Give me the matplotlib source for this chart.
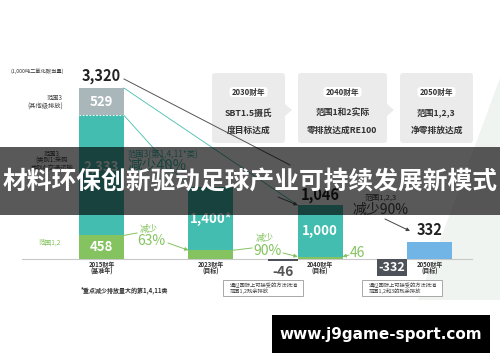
import matplotlib
matplotlib.use("Agg")
import matplotlib.pyplot as plt
import numpy as np
from matplotlib.patches import Rectangle, FancyBboxPatch, Polygon

plt.rcParams['font.family'] = ['Noto Sans CJK SC', 'DejaVu Sans']

# ---- data (1,000 t CO2e) ----
years = ['2015财年', '2023财年', '2040财年', '2050财年']
year_notes = ['(基准年)', '(目标)', '(目标)', '(目标)']
scope12 = [458, 170, 46, 0]
scope3_main = [2333, 1230, 1000, 0]
scope3_other = [529, 0, 0, 0]
net_zero = [0, 0, 0, 332]
totals = [3320, 1400, 1046, 332]
offsets = [0, 0, -46, -332]
main_labels = ['2,333', '1,400*', '1,000', '']
total_labels = ['3,320', '', '1,046', '332']

milestones = ['2030财年', '2040财年', '2050财年']
milestone_text = [['SBT1.5摄氏', '度目标达成'],
                  ['范围1和2实际', '零排放达成RE100'],
                  ['范围1,2,3', '净零排放达成']]
callouts = [['通过国际上可接受的方法抵消', '范围1,2残余排放'],
            ['通过国际上可接受的方法抵消', '范围1,2和3的残余排放']]

GREEN = '#84c35f'
TEAL = '#43bdaf'
GRAY = '#a9b6ba'
BLUE = '#70b5e5'
DARK = '#4d525a'
TXT = '#333333'

# layout: category 0 sits at X0 px, spacing DX px; baseline at Y0 px, SY px per unit
W, H = 500, 362
X0, DX, Y0, SY = 101.5, 109.3, 259.0, 0.0515
XL, YL = (-0.73, 3.4), (-1000, 5000)
bw = 0.41


def px(xd, yd):
    return X0 + DX * xd, Y0 - SY * yd


fig = plt.figure(figsize=(W / 100, H / 100), dpi=100)

# background decoration
bg = fig.add_axes([0, 0, 1, 1], zorder=-1)
bg.set_xlim(0, W); bg.set_ylim(H, 0); bg.axis('off')
bg.add_patch(Polygon([(500, 78), (500, 300), (418, 300)], closed=True,
                     color='#f0f4f1', lw=0))

# main bar axes
left_px = X0 + DX * XL[0]
right_px = X0 + DX * XL[1]
top_px = Y0 - SY * YL[1]
bot_px = Y0 - SY * YL[0]
ax = fig.add_axes([left_px / W, (H - bot_px) / H, (right_px - left_px) / W,
                   (bot_px - top_px) / H])
ax.set_facecolor('none')
ax.set_xlim(*XL); ax.set_ylim(*YL)
ax.axis('off')

x = np.arange(len(years))
s12 = np.array(scope12)
s3m = np.array(scope3_main)
ax.bar(x, s12, bw, color=GREEN, lw=0)
ax.bar(x, s3m, bw, bottom=s12, color=TEAL, lw=0)
ax.bar(x, scope3_other, bw, bottom=s12 + s3m, color=GRAY, lw=0)
ax.bar(x, net_zero, bw, color=BLUE, lw=0)
neg = [i for i, v in enumerate(offsets) if v]
ax.bar(x[neg] - 0.34, [offsets[i] for i in neg], 0.27, color=DARK, lw=0)
ax.hlines(s12[0] + s3m[0], -bw / 2, bw / 2, colors='white', lw=0.8,
          linestyles=(0, (1.5, 1.5)))
ax.axhline(0, color='#c8c8c8', lw=0.8, zorder=0)

# value labels inside bars
ax.text(0, s12[0] + s3m[0] + scope3_other[0] / 2, '529', color='white',
        fontsize=9.5, fontweight='bold', ha='center', va='center')
ax.text(0, s12[0] / 2, '458', color='white', fontsize=9.5,
        fontweight='bold', ha='center', va='center')
# 2015 scope 3 label sits a little above the middle, just over the banner text
lab_pos = [0.57, 0.5, 0.5, 0.5]
for i, lab in enumerate(main_labels):
    if lab:
        ax.text(i, s12[i] + s3m[i] * lab_pos[i], lab, color='white', fontsize=9.5,
                fontweight='bold', ha='center', va='center')
for i, lab in enumerate(total_labels):
    if lab:
        ax.annotate(lab, (i, totals[i]), xytext=(0, 1.5 if i == 2 else 3),
                    textcoords='offset points',
                    fontsize=10.5, fontweight='bold', color='#222222',
                    ha='center', va='bottom')
ax.annotate('-46', (2 - 0.34, offsets[2]), xytext=(0, -8), textcoords='offset points',
            fontsize=10, fontweight='bold', color='#555555', ha='center', va='center')
ax.text(3 - 0.34, offsets[3] / 2, '-332', color='white', fontsize=9,
        fontweight='bold', ha='center', va='center')

# overlay in pixel coordinates
ov = fig.add_axes([0, 0, 1, 1])
ov.set_xlim(0, W); ov.set_ylim(H, 0); ov.axis('off')
ov.patch.set_alpha(0)

# connector lines
ov.plot(*zip(px(bw / 2, totals[0]), px(2 - bw / 2, totals[2])), color=TEAL, lw=0.6)
ov.plot(*zip(px(bw / 2, s12[0] + s3m[0]), px(1 - bw / 2, totals[1])), color=TEAL, lw=0.6)
ov.plot([124, 290], [79, 165], color='#555555', lw=0.7)
arrow = dict(arrowstyle='-|>', lw=0.7, mutation_scale=5, shrinkA=0, shrinkB=0)
ov.annotate('', px(2 - bw / 2, totals[2]), (278, 197), arrowprops=dict(arrow, color='#555555'))

# scope 1,2 reductions
ov.plot(*zip(px(bw / 2, scope12[0]), (137, 233)), color=GREEN, lw=0.7)
ov.text(140, 229, '减少', color=GREEN, fontsize=6.5, va='center')
ov.text(137, 241, '63%', color=GREEN, fontsize=10, va='center')
ov.annotate('', px(1 - bw / 2, scope12[1]), (168, 243), arrowprops=dict(arrow, color=GREEN))
ov.plot(*zip(px(1 + bw / 2, scope12[1]), (252, 248)), color=GREEN, lw=0.7)
ov.text(256, 238, '减少', color=GREEN, fontsize=6.5, va='center')
ov.text(253, 251, '90%', color=GREEN, fontsize=10, va='center')
ov.annotate('', px(2 - bw / 2, scope12[2]), (283, 253), arrowprops=dict(arrow, color=GREEN))
ov.annotate('', px(2 + bw / 2, scope12[2]), (349, 255), arrowprops=dict(arrow, color=GREEN))
ov.text(350, 253, '46', color=GREEN, fontsize=10, va='center')

# scope 3 reductions
ov.text(128, 155, '范围3(第1,4,11*类)', color=TEAL, fontsize=6, va='center')
ov.text(127, 166, '减少40%', color=TEAL, fontsize=10.5, va='center')
ov.text(381, 198, '范围1,2,3', color='#444444', fontsize=5.5, ha='center', va='center')
ov.text(381, 210, '减少90%', color='#444444', fontsize=10, ha='center', va='center')
ov.annotate('', (410, 231), (385, 219), arrowprops=dict(arrow, color='#444444'))

# left side labels
ov.text(37, 71, '(1,000吨二氧化碳当量)', fontsize=3.8, color=TXT, ha='center', va='center')
ov.text(63, 98, '范围3', fontsize=4.5, color='#444444', ha='right', va='center')
ov.text(63, 107, '(其他级排放)', fontsize=4.5, color='#444444', ha='right', va='center')
for k, line in enumerate(['范围3', '(类别1:采购', '类别4:交通运输']):
    ov.text(52, 154 + 7 * k, line, fontsize=4.5, color='#444444', ha='center', va='center')
ov.text(50, 243, '范围1,2', fontsize=4.8, color=GREEN, ha='center', va='center')

# category labels
for i, (yr, note) in enumerate(zip(years, year_notes)):
    cx = px(i, 0)[0]
    ov.text(cx, 265, yr, fontsize=4.3, fontweight='bold', color=TXT, ha='center', va='center')
    ov.text(cx, 271, note, fontsize=4.3, fontweight='bold', color=TXT, ha='center', va='center')
ov.text(124, 290, '*重点减少排放量大的第1,4,11类', fontsize=4.3, fontweight='bold',
        color=TXT, ha='center', va='center')

# callout boxes under the offset bars
for (bx, by), lines in zip([(223, 280), (362, 280)], callouts):
    ov.add_patch(Rectangle((bx, by), 80, 16, facecolor='white', edgecolor='#9a9a9a', lw=0.6))
    ov.text(bx + 7, by + 5, lines[0], fontsize=3.8, color='#444444', va='center')
    ov.text(bx + 7, by + 11, lines[1], fontsize=3.8, color='#444444', va='center')

# milestone boxes
for k, ((bx, bwid), lab, lines) in enumerate(zip([(212, 73), (298, 89), (400, 73)],
                                                 milestones, milestone_text)):
    ov.add_patch(FancyBboxPatch((bx, 73), bwid, 70, boxstyle='round,pad=0,rounding_size=3',
                                facecolor='#ebebeb', edgecolor='none'))
    if k < 2:
        ov.add_patch(Polygon([(bx + bwid, 104), (bx + bwid + 7, 110), (bx + bwid, 116)],
                             closed=True, facecolor='#ebebeb', edgecolor='none'))
    cx = bx + bwid / 2
    ov.add_patch(FancyBboxPatch((cx - 19, 87), 38, 10, boxstyle='round,pad=0,rounding_size=3',
                                facecolor='white', edgecolor='none'))
    ov.text(cx, 92, lab, fontsize=5.5, fontweight='bold', color=TXT, ha='center', va='center')
    ov.text(cx, 113, lines[0], fontsize=6.3, fontweight='bold', color=TXT, ha='center', va='center')
    ov.text(cx, 130, lines[1], fontsize=6.3, fontweight='bold', color=TXT, ha='center', va='center')

# title banner on top of everything
ov.add_patch(Rectangle((0, 147), W, 68, facecolor='black', alpha=0.65, lw=0, zorder=10))
ov.text(250, 182, '材料环保创新驱动足球产业可持续发展新模式', color='white', fontsize=17.8,
        fontweight='bold', ha='center', va='center', zorder=11)

# watermark
ov.add_patch(Rectangle((272, 315), 218, 38, facecolor='black', lw=0, zorder=10))
ov.text(381, 334, 'www.j9game-sport.com', color='white', fontsize=11, fontweight='bold',
        family='DejaVu Sans', ha='center', va='center', zorder=11)

fig.savefig('out.png', dpi=100, facecolor='white')
